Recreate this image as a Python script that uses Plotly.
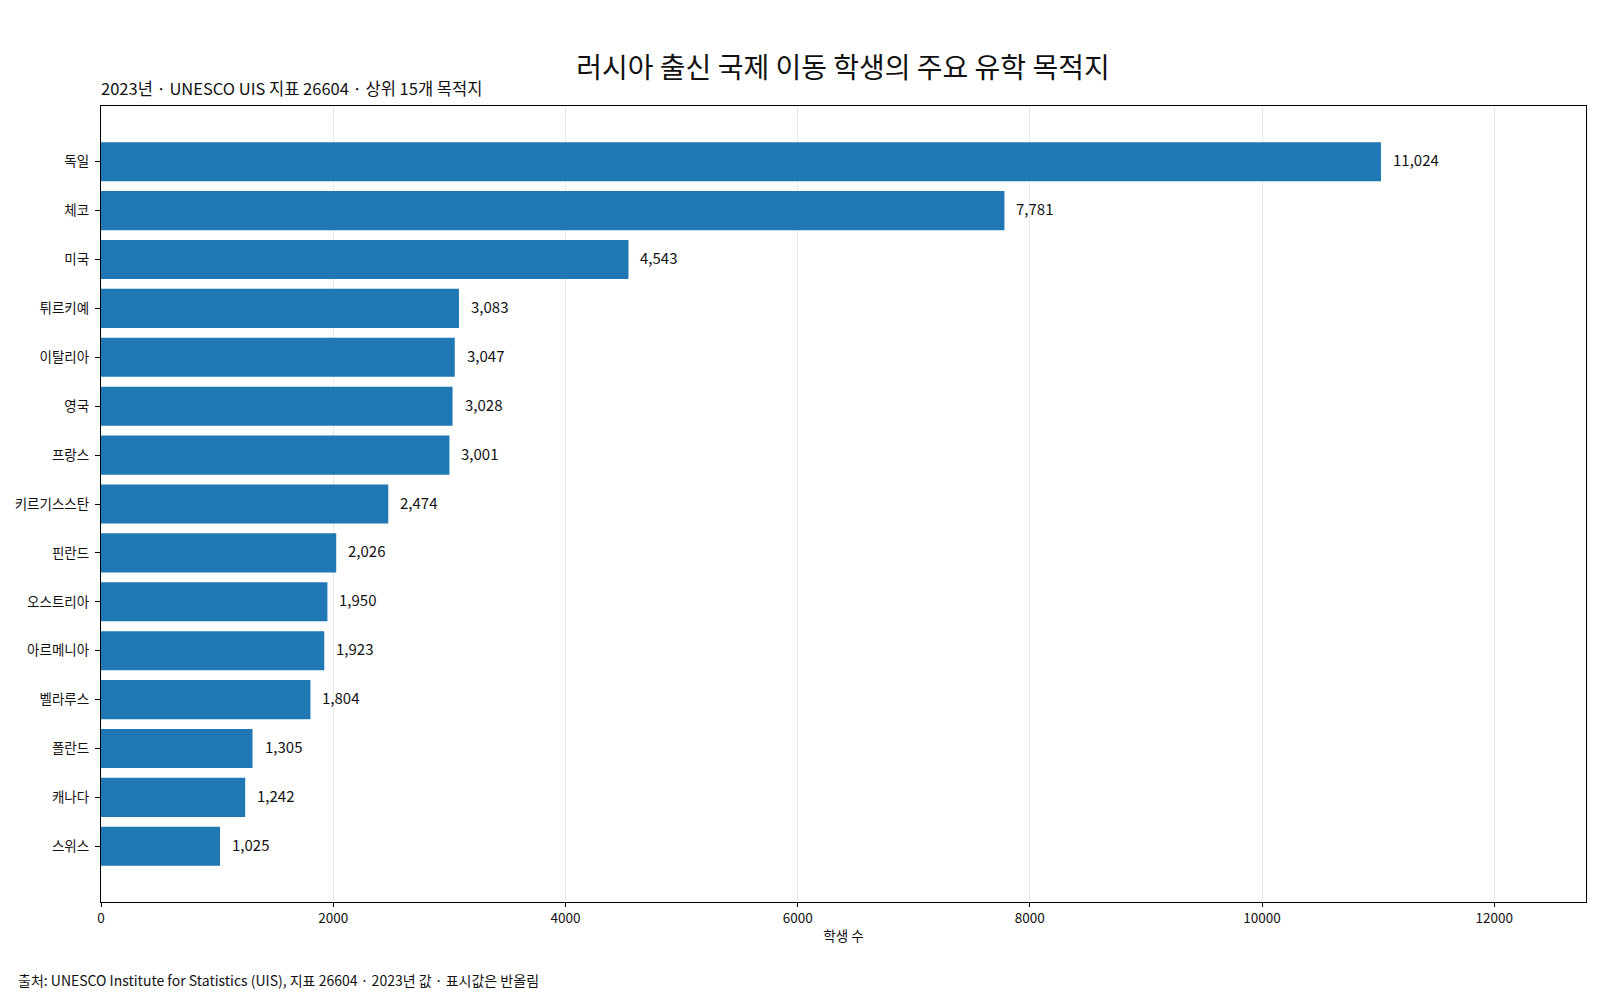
import plotly.graph_objects as go

# 상위 15개 목적지 (2023, UNESCO UIS 26604)
countries = ['독일', '체코', '미국', '튀르키예', '이탈리아', '영국', '프랑스', '키르기스스탄',
             '핀란드', '오스트리아', '아르메니아', '벨라루스', '폴란드', '캐나다', '스위스']
students = [11024, 7781, 4543, 3083, 3047, 3028, 3001, 2474,
            2026, 1950, 1923, 1804, 1305, 1242, 1025]
x_ticks = [0, 2000, 4000, 6000, 8000, 10000, 12000]

FONT = "Noto Sans CJK KR"
BAR = "#1f77b4"

# page body has an 8px margin, so the figure is a bit smaller than the window
W, H = 1584, 984
L, R, T, B = 93, 6, 98, 90
PW, PH = W - L - R, H - T - B

fig = go.Figure()

fig.add_trace(go.Bar(
    x=students,
    y=countries,
    orientation='h',
    width=0.8,
    marker=dict(color=BAR, line=dict(width=0)),
    hoverinfo='x+y',
    showlegend=False
))

# value labels to the right of each bar
for c, v in zip(countries, students):
    fig.add_annotation(
        x=v, y=c, xref='x', yref='y',
        text=f"{v:,}", showarrow=False,
        xanchor='left', yanchor='middle', xshift=10, yshift=2,
        font=dict(family=FONT, size=15, color='#111111')
    )

# subtitle
fig.add_annotation(
    x=0, y=1.0, xref='paper', yref='paper',
    text="2023년 · UNESCO UIS 지표 26604 · 상위 15개 목적지",
    showarrow=False, xanchor='left', yanchor='bottom', yshift=4, xshift=-2,
    font=dict(family=FONT, size=16.5, color='#111111')
)

# footer
fig.add_annotation(
    x=(8 - L) / PW, y=-(972 - (H - B)) / PH, xref='paper', yref='paper',
    text="출처: UNESCO Institute for Statistics (UIS), 지표 26604 · 2023년 값 · 표시값은 반올림",
    showarrow=False, xanchor='left', yanchor='middle',
    font=dict(family=FONT, size=14, color='#111111')
)

fig.update_layout(
    width=W, height=H,
    title=dict(
        text="러시아 출신 국제 이동 학생의 주요 유학 목적지",
        x=835 / W, xanchor='center', y=1 - 60 / H, yanchor='middle',
        font=dict(family=FONT, size=28, color='#111111')
    ),
    margin=dict(l=L, r=R, t=T, b=B),
    plot_bgcolor='white', paper_bgcolor='white',
    font=dict(family=FONT, size=13.5, color='#111111'),
    bargap=0.2,
    xaxis=dict(
        range=[0, 12790],
        tickvals=x_ticks,
        ticktext=[str(t) for t in x_ticks],
        ticks='outside', ticklen=4, tickcolor='black', tickwidth=1,
        showgrid=True, gridcolor='rgba(200,200,200,0.4)', gridwidth=1,
        zeroline=False,
        showline=True, linecolor='black', linewidth=1.2, mirror=True,
        title=dict(text="학생 수", font=dict(family=FONT, size=13.5), standoff=5),
        tickfont=dict(family=FONT, size=13.5),
        layer='above traces'
    ),
    yaxis=dict(
        categoryorder='array', categoryarray=countries,
        autorange=False, range=[14.0 + 1.14, -1.14],
        ticks='outside', ticklen=5, tickcolor='black', tickwidth=1,
        showgrid=False, zeroline=False,
        showline=True, linecolor='black', linewidth=1.2, mirror=True,
        tickfont=dict(family=FONT, size=13.5),
        ticksuffix=' '
    )
)

fig.write_html("out.html")
